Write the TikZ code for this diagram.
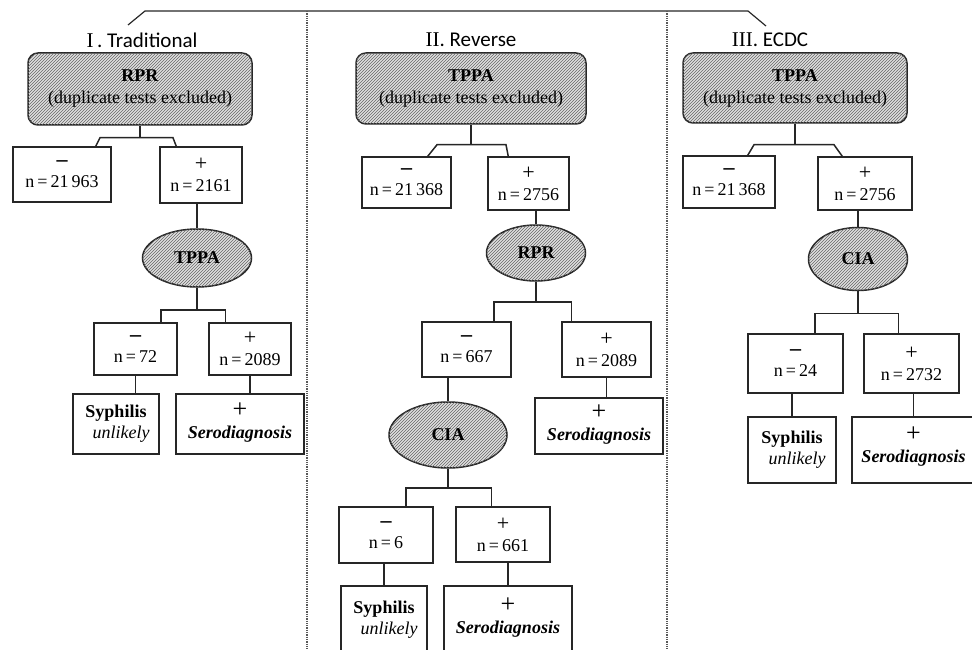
\documentclass[tikz,border=0pt]{standalone}
\usepackage{fontspec}
\setmainfont{Liberation Serif}
\newfontfamily\titlefont{Carlito}
\usetikzlibrary{calc,patterns,shapes.geometric}
\newcommand\possign{{\fontsize{22}{21}\selectfont +}}
\newcommand\negsign{{\fontsize{22}{21}\selectfont\bfseries --}}
\newcommand\serosign{{\fontsize{26}{21}\selectfont +}}
\tikzset{
	sz/.style 2 args={minimum width=#1pt, minimum height=#2pt},
	hatch/.style={fill=black!12, postaction={pattern=north east lines, pattern color=black!60}},
	link/.style={draw=black!85, line width=1.5pt},
	testbox/.style={draw=black!85, line width=1.5pt, rounded corners=10pt, hatch, align=center, inner sep=0pt, font=\fontsize{18}{22}\selectfont},
	testoval/.style={ellipse, draw=black!85, line width=1.5pt, hatch, inner sep=0pt, font=\fontsize{18}{22}\selectfont\bfseries},
	nbox/.style={draw=black!85, line width=1.5pt, fill=white, align=center, inner sep=0pt, font=\fontsize{18}{21}\selectfont},
	title/.style={font=\fontsize{21}{24}\selectfont\titlefont},
	divider/.style={densely dotted, line width=1.3pt, black!65},
}

\begin{document}
\begin{tikzpicture}[x=1pt, y=-1pt]
		%%%%% START %%%%%
		\useasboundingbox (0,0) rectangle (972,650);
		
		% header line and dividers
		\coordinate (h1) at (128,25);
		\coordinate (h2) at (145,11);
		\coordinate (h3) at (748,11);
		\coordinate (h4) at (766,26);
		\draw[link, line width=1.2pt] (h1) -- (h2) -- (h3) -- (h4);
		\draw[divider] (307,11) -- (307,650);
		\draw[divider] (667,11) -- (667,650);
		
		\node[title] (ttl1) at (142,40) {{\rmfamily I}\,. Traditional};
		\node[title] (ttl2) at (471,40) {{\rmfamily II}. Reverse};
		\node[title] (ttl3) at (770,40) {{\rmfamily III}. ECDC};
		
		%%%%% I. Traditional %%%%%
		\node[testbox, sz={224}{72}] (top1) at (140,89) {\textbf{RPR}\\(duplicate tests excluded)};
		\node[nbox, sz={98}{55}] (neg1) at (62,174.5) {\negsign\\n\,=\,21\,963};
		\node[nbox, sz={82}{56}] (pos1) at (201,175) {\possign\\n\,=\,2161};
		\node[testoval, sz={109}{58}] (test1) at (197,258) {TPPA};
		\node[nbox, sz={83}{52}] (neg1b) at (135.5,349) {\negsign\\n\,=\,72};
		\node[nbox, sz={82}{52}] (pos1b) at (250,349) {\possign\\n\,=\,2089};
		\node[nbox, sz={86}{60}] (res1a) at (116,424) {\textbf{Syphilis}\\\hspace*{10pt}\textit{unlikely}};
		\node[nbox, sz={128}{60}] (res1b) at (240,424) {\serosign\\\textbf{\textit{Serodiagnosis}}\\[-14pt]~};
		
		\draw[link] (top1.south) -- ++(0,12) coordinate (s1);
		\draw[link] ([xshift=-16pt]neg1.north east) -- ([xshift=-40pt]s1) -- ([xshift=33pt]s1) -- ([xshift=17pt]pos1.north west);
		\draw[link] (test1.north |- pos1.south) -- (test1.north);
		\draw[link] (test1.south) -- ++(0,22) coordinate (t1);
		\draw[link] ([xshift=-17pt]neg1b.north east) |- (t1) -| ([xshift=17pt]pos1b.north west);
		\draw[link] (neg1b.south) -- (neg1b.south |- res1a.north);
		\draw[link] (pos1b.south) -- (pos1b.south |- res1b.north);
		
		%%%%% II. Reverse %%%%%
		\node[testbox, sz={230}{71}] (top2) at (471,88.5) {\textbf{TPPA}\\(duplicate tests excluded)};
		\node[nbox, sz={89}{51}] (neg2) at (406.5,182.5) {\negsign\\n\,=\,21\,368};
		\node[nbox, sz={81}{53}] (pos2) at (528.5,183.5) {\possign\\n\,=\,2756};
		\node[testoval, sz={99}{56}] (test2) at (536,253) {RPR};
		\node[nbox, sz={89}{55}] (neg2b) at (466.5,349.5) {\negsign\\n\,=\,667};
		\node[nbox, sz={89}{55}] (pos2b) at (606.5,349.5) {\possign\\n\,=\,2089};
		\node[testoval, sz={118}{66}] (test2b) at (448,435) {CIA};
		\node[nbox, sz={128}{56}] (res2b) at (599,426) {\serosign\\\textbf{\textit{Serodiagnosis}}\\[-14pt]~};
		\node[nbox, sz={94}{56}] (neg2c) at (386,535) {\negsign\\n\,=\,6};
		\node[nbox, sz={94}{55}] (pos2c) at (503,534.5) {\possign\\n\,=\,661};
		\node[nbox, sz={86}{74}, text depth=10pt] (res2c) at (384,623) {\textbf{Syphilis}\\\hspace*{10pt}\textit{unlikely}};
		\node[nbox, sz={128}{74}] (res2d) at (508,623) {\serosign\\\textbf{\textit{Serodiagnosis}}\\[-6pt]~};
		
		\draw[link] (top2.south) -- ++(0,20) coordinate (s2);
		\draw[link] ([xshift=-24pt]neg2.north east) -- ([xshift=-34pt]s2) -- ([xshift=35pt]s2) -- ([xshift=21pt]pos2.north west);
		\draw[link] (test2.north |- pos2.south) -- (test2.north);
		\draw[link] (test2.south) -- ++(0,20) coordinate (t2);
		\draw[link] ([xshift=-18pt]neg2b.north east) |- (t2) -| ([xshift=10pt]pos2b.north west);
		\draw[link] (test2b.north |- neg2b.south) -- (test2b.north);
		\draw[link] (pos2b.south) -- (pos2b.south |- res2b.north);
		\draw[link] (test2b.south) -- ++(0,19) coordinate (t2b);
		\draw[link] ([xshift=-28pt]neg2c.north east) |- (t2b) -| ([xshift=36pt]pos2c.north west);
		\draw[link] (res2c.north |- neg2c.south) -- (res2c.north);
		\draw[link] (res2d.north |- pos2c.south) -- (res2d.north);
		
		%%%%% III. ECDC %%%%%
		\node[testbox, sz={224}{70}] (top3) at (795,88) {\textbf{TPPA}\\(duplicate tests excluded)};
		\node[nbox, sz={92}{52}] (neg3) at (729,182) {\negsign\\n\,=\,21\,368};
		\node[nbox, sz={94}{53}] (pos3) at (865,183.5) {\possign\\n\,=\,2756};
		\node[testoval, sz={99}{63}] (test3) at (858,259) {CIA};
		\node[nbox, sz={95}{59}] (neg3b) at (795.5,363.5) {\negsign\\n\,=\,24};
		\node[nbox, sz={95}{59}] (pos3b) at (911.5,363.5) {\possign\\n\,=\,2732};
		\node[nbox, sz={88}{66}] (res3a) at (792,450) {\textbf{Syphilis}\\\hspace*{10pt}\textit{unlikely}};
		\node[nbox, sz={123}{66}] (res3b) at (913.5,450) {\serosign\\\textbf{\textit{Serodiagnosis}}\\[-10pt]~};
		
		\draw[link] (top3.south) -- ++(0,21) coordinate (s3);
		\draw[link] ([xshift=-28pt]neg3.north east) -- ([xshift=-41pt]s3) -- ([xshift=39pt]s3) -- ([xshift=25pt]pos3.north west);
		\draw[link] (test3.north |- pos3.south) -- (test3.north);
		\draw[link] (test3.south) -- ++(0,22) coordinate (t3);
		\draw[link] ([xshift=-29pt]neg3b.north east) |- (t3) -| ([xshift=35pt]pos3b.north west);
		\draw[link] (res3a.north |- neg3b.south) -- (res3a.north);
		\draw[link] (res3b.north |- pos3b.south) -- (res3b.north);
		
		%%%%% END %%%%%
	\end{tikzpicture}
\end{document}
